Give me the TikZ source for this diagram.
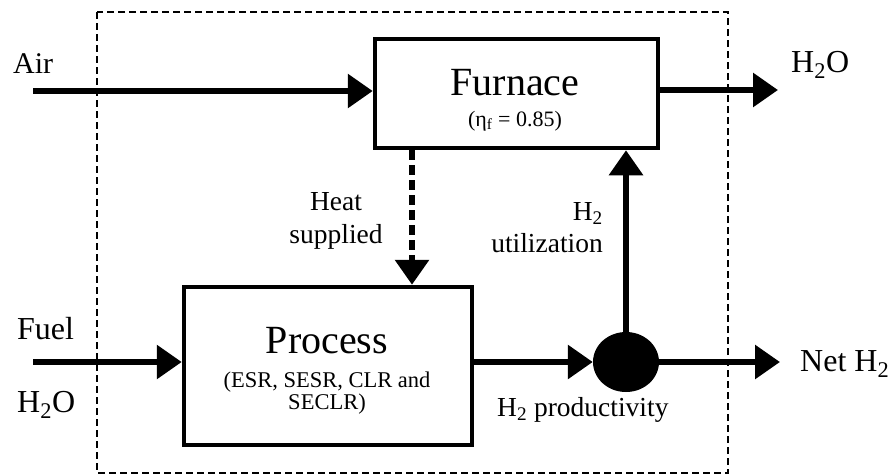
\documentclass[tikz,border=0pt]{standalone}
\usepackage{fontspec}
\setmainfont{Liberation Serif}
\usetikzlibrary{arrows.meta,shapes.geometric}
\tikzset{
 unitbox/.style={draw, line width=4.5pt, inner sep=0pt, outer sep=2.25pt},
 flow/.style={line width=6pt, -{Triangle[length=25pt,width=33pt]}},
 heatflow/.style={line width=6.5pt, dash pattern=on 10pt off 5pt, -{Triangle[length=25pt,width=33pt]}},
 boundary/.style={line width=2.2pt, dash pattern=on 7pt off 4pt},
 biglbl/.style={font=\fontsize{40}{44}\selectfont, inner sep=0pt},
 sublbl/.style={font=\fontsize{22.5}{25}\selectfont, inner sep=0pt},
 etalbl/.style={font=\fontsize{22}{24}\selectfont, inner sep=0pt},
 extlbl/.style={font=\fontsize{32}{36}\selectfont, inner sep=0pt},
 intlbl/.style={font=\fontsize{27.5}{30}\selectfont, inner sep=0pt},
}
\begin{document}
\begin{tikzpicture}[x=1pt,y=-1pt]
\useasboundingbox (0,0) rectangle (895,475);
% system boundary
\draw[boundary] (97,12) rectangle (728,473);
% units
\node[unitbox, minimum width=283pt, minimum height=109pt] (furnace) at (516.5,93.5) {};
\node[unitbox, minimum width=288pt, minimum height=158pt] (process) at (328,366) {};
\node[ellipse, fill=black, inner sep=0pt, minimum width=66pt, minimum height=60pt] (junction) at (626,362) {};
% unit texts
\node[biglbl, anchor=base] (furnacetxt) at (515,95) {Furnace};
\node[etalbl, anchor=base] (etatxt) at (515,126) {(η\textsubscript{f} = 0.85)};
\node[biglbl, anchor=base] (processtxt) at (327,353) {Process};
\node[sublbl, anchor=base] (proctxta) at (327,387) {(ESR, SESR, CLR and};
\node[sublbl, anchor=base] (proctxtb) at (327,409) {SECLR)};
% external labels
\node[extlbl, anchor=base west, font=\fontsize{30}{34}\selectfont] (air) at (13,73) {Air};
\node[extlbl, anchor=base west] (fuel) at (17,339) {Fuel};
\node[extlbl, anchor=base west] (waterin) at (17,412) {H\textsubscript{2}O};
\node[extlbl, anchor=base west] (waterout) at (791,72) {H\textsubscript{2}O};
\node[extlbl, anchor=base west] (neth) at (800,371) {Net H\textsubscript{2}};
% internal labels
\node[intlbl, anchor=base] (heat) at (336,210) {Heat};
\node[intlbl, anchor=base] (supplied) at (336,243) {supplied};
\node[intlbl, anchor=base east] (hutil) at (603,220) {H\textsubscript{2}};
\node[intlbl, anchor=base east] (util) at (603,252) {utilization};
\node[intlbl, anchor=base west] (prod) at (497,416) {H\textsubscript{2} productivity};
% coordinates
\coordinate (airstart) at (33,91);
\coordinate (h2oend) at (778,90);
\coordinate (fuelstart) at (33,362);
\coordinate (heatx) at (412,200);
\coordinate (netend) at (780,362);
% connectors
\draw[flow] (airstart) -- (airstart -| furnace.west);
\draw[flow] (furnace.east |- h2oend) -- (h2oend);
\draw[flow] (fuelstart) -- (fuelstart -| process.west);
\draw[heatflow] (furnace.south -| heatx) -- (process.north -| heatx);
\draw[flow] (process.east |- junction.west) -- (junction.west);
\draw[flow] (junction.center) -- (junction.center |- furnace.south);
\draw[flow] (junction.center) -- (netend);
\end{tikzpicture}
\end{document}
